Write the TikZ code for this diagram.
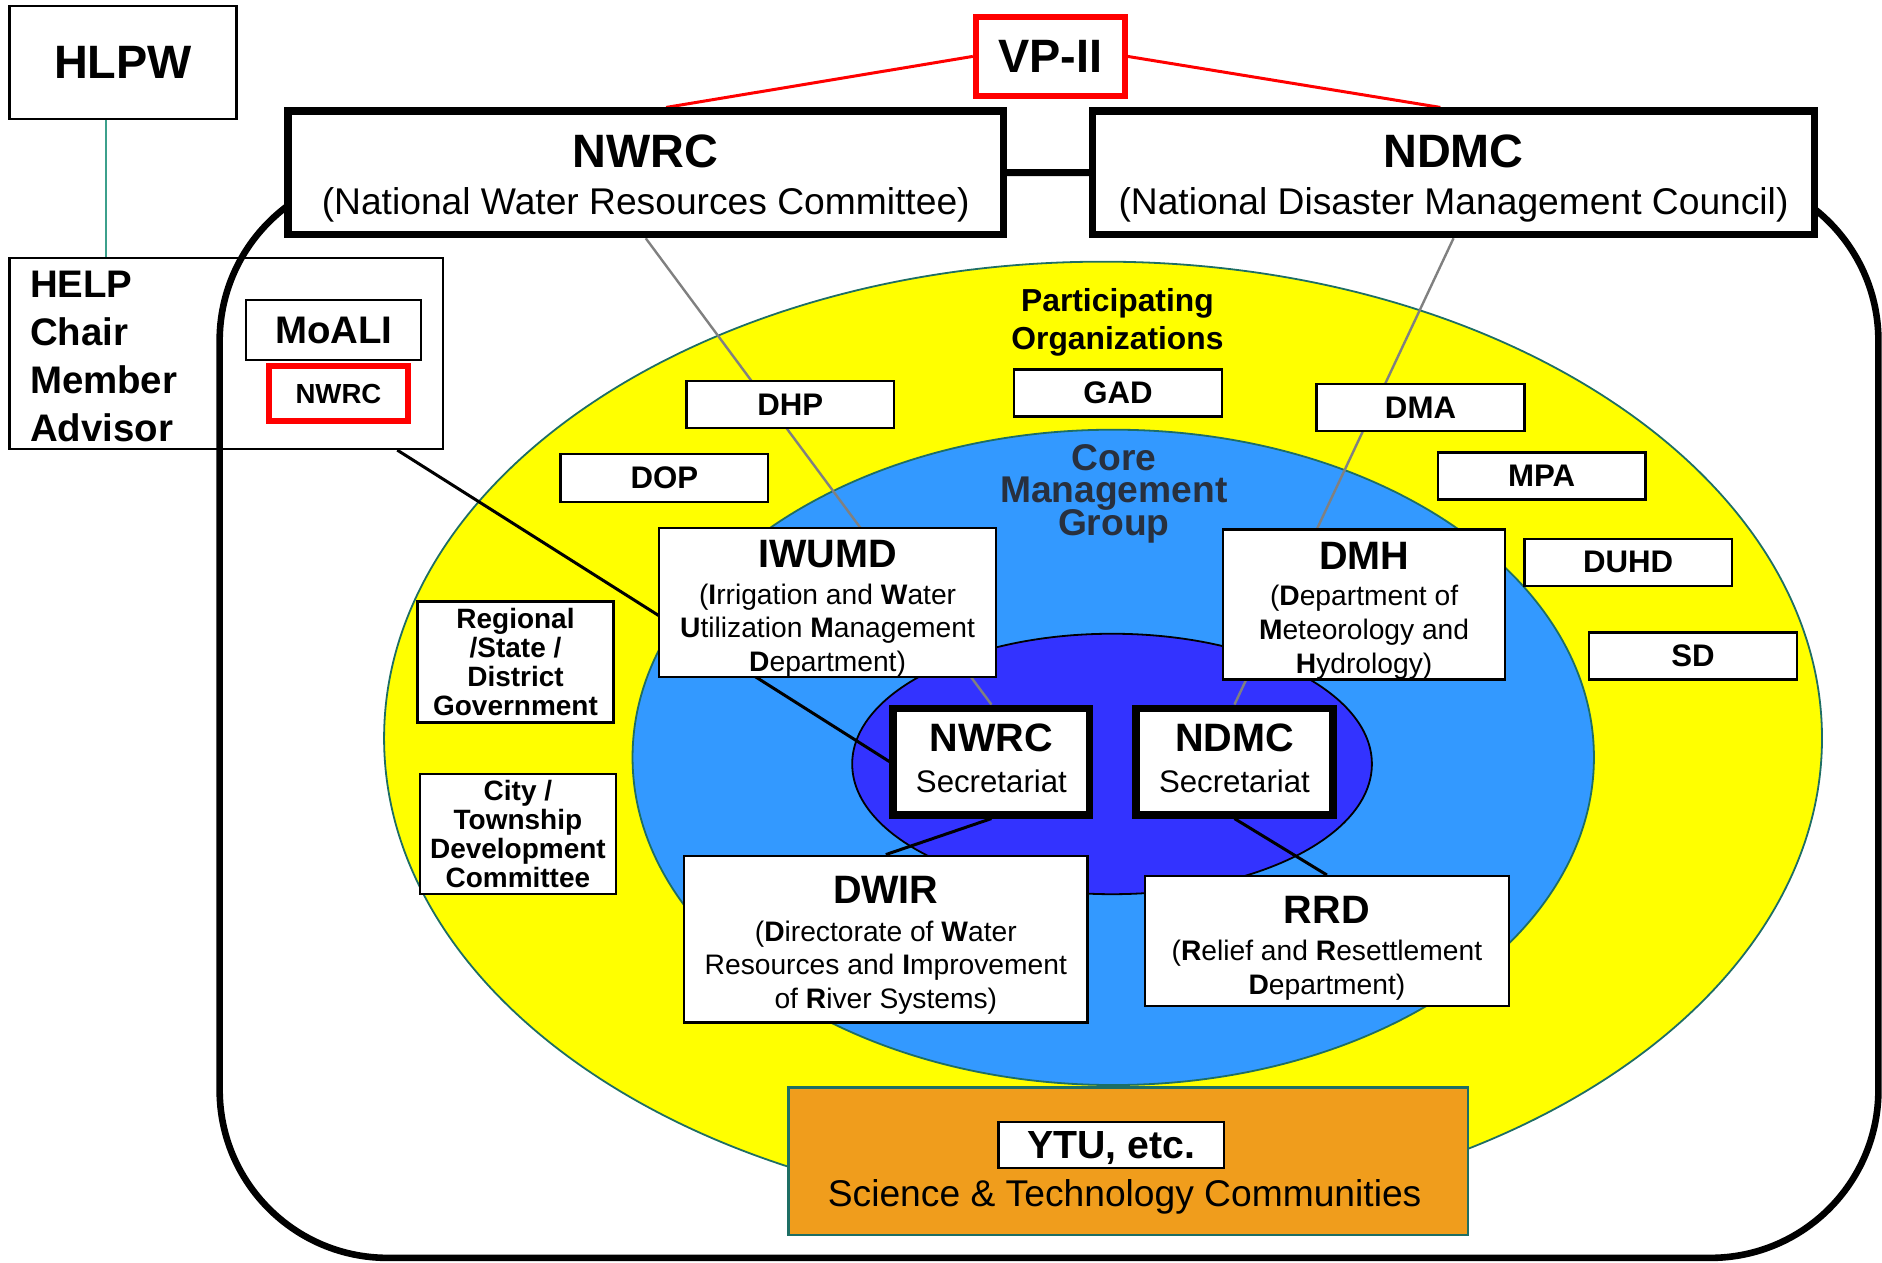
\documentclass[tikz,border=0pt]{standalone}
\usepackage{fontspec}
\setmainfont{Liberation Sans}

\definecolor{partyellow}{RGB}{255,255,0}
\definecolor{coreblue}{RGB}{51,153,255}
\definecolor{secblue}{RGB}{51,51,255}
\definecolor{stcorange}{RGB}{240,157,28}
\definecolor{tealedge}{RGB}{30,110,100}
\definecolor{hlpwteal}{RGB}{60,160,140}
\definecolor{coretext}{RGB}{40,48,62}

\pgfdeclarelayer{background}
\pgfdeclarelayer{links}
\pgfsetlayers{background,links,main}

\newcommand{\boxhead}[1]{\rule{0pt}{33pt}{\bfseries\fontsize{33}{28}\selectfont #1}}
\newcommand{\tightlines}{\lineskiplimit=-20pt\relax}

\begin{document}
\begin{tikzpicture}[x=1pt,y=-1pt]
\tikzstyle{every node}=[inner sep=0pt, align=center]
\tikzstyle{thinbox}=[draw, line width=2pt]
\tikzstyle{orgbox}=[draw, line width=2pt, fill=white, minimum width=173, minimum height=39, font=\bfseries\fontsize{26}{30}\selectfont]
\tikzstyle{localbox}=[draw, line width=2pt, fill=white, minimum width=163, font=\bfseries\fontsize{23.3}{24.3}\selectfont]
\tikzstyle{deptbox}=[draw, line width=2pt, fill=white, font=\fontsize{23.5}{28}\selectfont]
\tikzstyle{secbox}=[draw, line width=6pt, fill=white, minimum width=164, minimum height=89, font=\fontsize{26}{34.6}\selectfont]
\tikzstyle{councilbox}=[draw, line width=6pt, fill=white, minimum height=103, font=\fontsize{31}{39}\selectfont]
\tikzstyle{redbox}=[draw=red, line width=5pt, fill=white]
\tikzstyle{redlink}=[draw=red, line width=2.5pt]
\tikzstyle{graylink}=[draw=gray, line width=2pt]
\tikzstyle{blacklink}=[draw=black, line width=2.5pt]

\useasboundingbox (0,0) rectangle (1568,1052);

% frame and circles
\begin{pgfonlayer}{background}
\draw[line width=5.5pt, rounded corners=140pt] (183,144) rectangle (1565,1048);
\draw[draw=tealedge, line width=1.5pt, fill=partyellow] (919,615) ellipse [x radius=599pt, y radius=397pt];
\draw[draw=tealedge, line width=1.5pt, fill=coreblue] (927.5,631) ellipse [x radius=400.5pt, y radius=273pt];
\draw[draw=black, line width=1.5pt, fill=secblue] (926.5,636.5) ellipse [x radius=216.5pt, y radius=108.5pt];
\end{pgfonlayer}

% left side
\node[thinbox, minimum width=189, minimum height=94, font=\bfseries\fontsize{39}{40}\selectfont] (hlpw) at (102.5,52) {HLPW};
\node[thinbox, text width=327pt, inner xsep=17pt, align=left, minimum height=159, font=\bfseries\fontsize{32}{40}\selectfont] (help) at (188.5,294.5) {\rule{0pt}{27pt}HELP\\Chair\\Member\\Advisor};
\node[thinbox, minimum width=146, minimum height=50, font=\bfseries\fontsize{32}{34}\selectfont] (moali) at (278,275) {MoALI};
\node[redbox, minimum width=116, minimum height=46, font=\bfseries\fontsize{23}{25}\selectfont] (nwrcred) at (282,328) {NWRC};

% top
\node[redbox, minimum width=124, minimum height=66, font=\bfseries\fontsize{39}{40}\selectfont] (vp) at (875,47) {VP-II};
\node[councilbox, minimum width=596] (nwrc) at (538,144) {\rule{0pt}{36.5pt}{\bfseries\fontsize{39}{39}\selectfont NWRC}\\(National Water Resources Committee)};
\node[councilbox, minimum width=602] (ndmc) at (1211,144) {\rule{0pt}{37pt}{\bfseries\fontsize{39}{39}\selectfont NDMC}\\(National Disaster Management Council)};

% participating organizations
\node[font=\bfseries\fontsize{26.5}{32}\selectfont] (partorg) at (931,268.8) {Participating\\Organizations};
\node[orgbox] (gad) at (931.5,327.5) {GAD};
\node[orgbox] (dhp) at (658.5,337) {DHP};
\node[orgbox] (dma) at (1183.5,339.5) {DMA};
\node[orgbox, minimum height=40] (dop) at (553.5,398) {DOP};
\node[orgbox] (mpa) at (1284.5,396.5) {MPA};
\node[orgbox] (duhd) at (1356.5,468.5) {DUHD};
\node[orgbox] (sd) at (1410.5,546.5) {SD};
\node[localbox, minimum height=101] (regional) at (429.5,551.5) {Regional\\/State /\\District\\Government};
\node[localbox, minimum height=100] (city) at (431.5,695) {City /\\Township\\Development\\Committee};

% core management group
\node[text=coretext, font=\bfseries\fontsize{31}{27}\selectfont\tightlines] (cmg) at (928,411.3) {Core\\Management\\Group};
\node[deptbox, minimum width=281, minimum height=122] (iwumd) at (689.5,502) {\boxhead{IWUMD}\\[2.6pt](\textbf{I}rrigation and \textbf{W}ater\\\textbf{U}tilization \textbf{M}anagement\\\textbf{D}epartment)};
\node[deptbox, minimum width=235, minimum height=125] (dmh) at (1136.5,503.5) {\boxhead{DMH}\\[2.6pt](\textbf{D}epartment of\\\textbf{M}eteorology and\\\textbf{H}ydrology)};
\node[deptbox, minimum width=336, minimum height=139] (dwir) at (738,782.5) {\boxhead{DWIR}\\[2.9pt](\textbf{D}irectorate of \textbf{W}ater\\Resources and \textbf{I}mprovement\\of \textbf{R}iver Systems)};
\node[deptbox, minimum width=303, minimum height=108] (rrd) at (1105.5,784) {\rule{0pt}{35pt}{\bfseries\fontsize{33}{28}\selectfont RRD}\\[2.6pt](\textbf{R}elief and \textbf{R}esettlement\\\textbf{D}epartment)};

% secretariats
\node[secbox] (nwrcsec) at (826,634.5) {{\bfseries\fontsize{33}{34.6}\selectfont NWRC}\\Secretariat\rule[-6pt]{0pt}{6pt}};
\node[secbox] (ndmcsec) at (1028.5,634.5) {{\bfseries\fontsize{33}{34.6}\selectfont NDMC}\\Secretariat\rule[-6pt]{0pt}{6pt}};

% science and technology
\node[draw=tealedge, line width=2pt, fill=stcorange, minimum width=566, minimum height=123] (stc) at (940,967.5) {};
\node[orgbox, minimum width=188, minimum height=38, text depth=0pt, font=\bfseries\fontsize{32.7}{34}\selectfont] (ytu) at (926,954) {YTU, etc.};
\node[font=\fontsize{31}{34}\selectfont] (stctext) at (937,997) {Science \& Technology Communities};

% links
\begin{pgfonlayer}{links}
\draw[redlink] (vp.west) -- ([xshift=17pt]nwrc.north);
\draw[redlink] (vp.east) -- ([xshift=-11pt]ndmc.north);
\draw[line width=6pt] (nwrc.east) -- (ndmc.west);
\draw[graylink] (nwrc.south) -- (nwrcsec.north);
\draw[graylink] (ndmc.south) -- (ndmcsec.north);
\draw[blacklink] ([xshift=-39pt]help.south east) -- (nwrcsec.west);
\draw[blacklink] (nwrcsec.south) -- (dwir.north);
\draw[blacklink] (ndmcsec.south) -- (rrd.north);
\draw[draw=hlpwteal, line width=1.5pt] ([xshift=-14.5pt]hlpw.south) -- ([xshift=-100.5pt]help.north);
\end{pgfonlayer}
\end{tikzpicture}
\end{document}
